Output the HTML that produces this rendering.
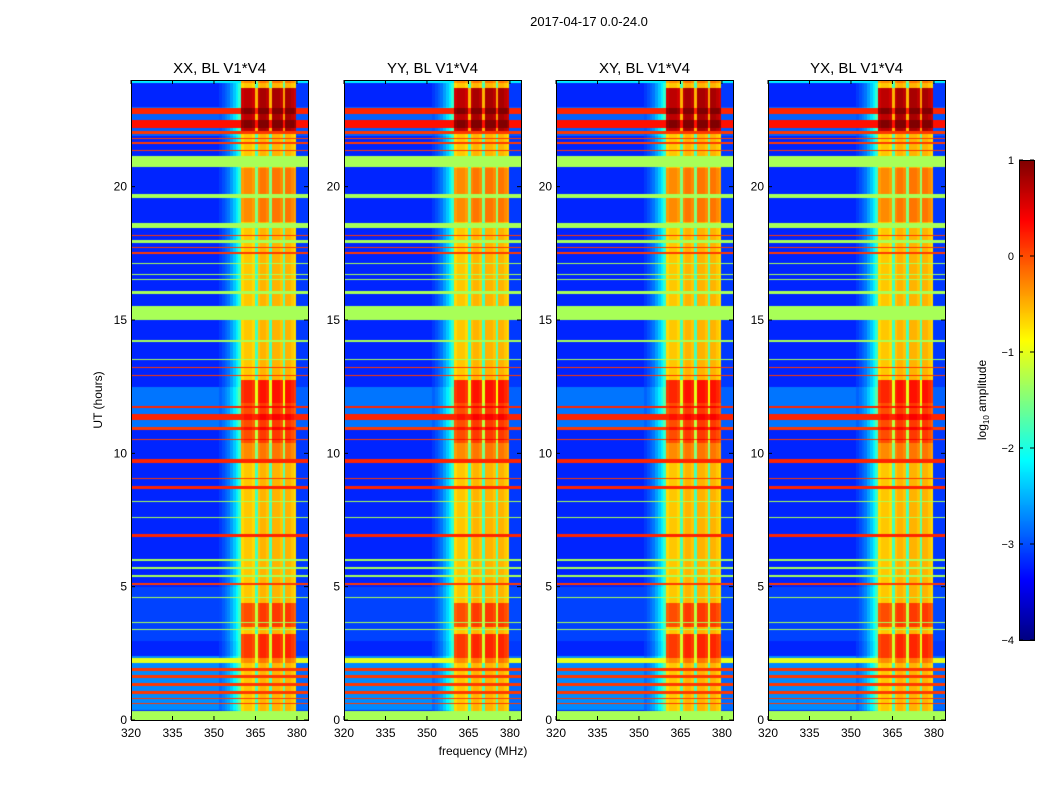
<!DOCTYPE html>
<html><head><meta charset="utf-8"><style>
body{margin:0;background:#fff;width:1050px;height:800px;overflow:hidden;font-family:"Liberation Sans",sans-serif}
#wrap{position:relative;width:1050px;height:800px}
canvas{position:absolute}
svg{position:absolute;left:0;top:0}
</style></head><body>
<div id="wrap">
<canvas id="c0" width="177" height="640" style="left:131px;top:80px"></canvas>
<canvas id="c1" width="177" height="640" style="left:344px;top:80px"></canvas>
<canvas id="c2" width="177" height="640" style="left:556px;top:80px"></canvas>
<canvas id="c3" width="177" height="640" style="left:768px;top:80px"></canvas>
<canvas id="cb" width="15" height="480" style="left:1019px;top:160px"></canvas>
<svg id="ov" width="1050" height="800">
<text x="589" y="26" font-size="13" text-anchor="middle">2017-04-17 0.0-24.0</text>
<text x="483" y="755" font-size="12" text-anchor="middle">frequency (MHz)</text>
<text transform="translate(102,400) rotate(-90)" font-size="12" text-anchor="middle">UT (hours)</text>
<text transform="translate(986,400) rotate(-90)" font-size="12" text-anchor="middle">log<tspan font-size="8" dy="3">10</tspan><tspan dy="-3"> amplitude</tspan></text>
</svg>
</div>
<script>
// ---- data ----
const panelTitles = ["XX, BL V1*V4","YY, BL V1*V4","XY, BL V1*V4","YX, BL V1*V4"];
const freqStart = 320, freqEnd = 384;
const xTicks = [320,335,350,365,380];
const yTicks = [0,5,10,15,20];
const cbTicks = [1,0,-1,-2,-3,-4];
// log10 amplitude per 1-MHz channel, 320..383
const chanLevel = [-3.2,-3.2,-3.2,-3.2,-3.2,-3.2,-3.2,-3.2,-3.2,-3.2,-3.2,-3.2,-3.2,-3.2,-3.2,-3.2,
  -3.2,-3.2,-3.2,-3.2,-3.2,-3.2,-3.2,-3.2,-3.2,-3.2,-3.2,-3.2,-3.2,-3.2,-3.2,-3.2,
  -3.1,-3.0,-2.9,-2.8,-2.6,-2.4,-2.2,-1.9,
  -0.7,-0.6,-0.6,-0.6,-0.7,-1.8,-0.6,-0.5,-0.5,-0.6,-1.8,-0.5,-0.5,-0.5,-0.6,-1.7,
  -0.5,-0.5,-0.6,-0.7,-3.1,-3.1,-3.1,-3.1];
// additive brightening of the signal band [h0,h1,delta]
const signalBoost = [[22.1,23.7,1.3],[18.7,20.7,0.3],[11.9,12.75,0.8],[10.4,11.9,0.6],[9.8,10.4,0.3],[3.5,4.4,0.6],[2.35,3.25,0.7]];
// additive brightening of the off-band background
const bgBoost = [[11.0,12.5,0.4],[0.4,2.4,0.5],[21.9,23.0,0.3],[3.0,5.0,0.15]];
// RFI lines covering all channels [h0,h1,value]
const rfiLines = [[23.9,24,-2.2],[22.75,22.95,0.2],[22.2,22.5,0.3],[22.0,22.08,0.1],[21.8,21.86,0.1],[21.6,21.68,0.1],[21.35,21.42,0.1],
  [18.15,18.22,0.1],[17.68,17.74,0.1],[17.48,17.54,0.1],[13.2,13.27,0.1],[12.9,12.96,0.1],[11.7,11.8,0.2],[11.25,11.5,0.2],[10.9,10.98,0.1],[10.5,10.56,0.1],
  [9.65,9.8,0.2],[9.05,9.12,0.1],[8.7,8.8,0.2],[6.9,7.0,0.2],[5.1,5.16,0.1],[2.15,2.35,-1.0],[1.85,1.95,0.1],[1.6,1.7,0.1],[1.3,1.4,0.1],[1.0,1.1,0.1],[0.8,0.85,0.1],[0.6,0.65,0.1]];
// flagged rows (constant fill) [h0,h1]
const flagRows = [[0,0.37],[15.0,15.56],[16.0,16.1],[17.9,18.0],[18.45,18.65],[19.6,19.76],[20.74,21.15],
  [17.08,17.13],[16.68,16.73],[16.48,16.53],[14.2,14.25],[13.5,13.55],[8.2,8.25],[7.6,7.65],[6.0,6.05],[5.7,5.75],[5.4,5.45],[4.58,4.63],[3.63,3.68],[3.38,3.43]];
const flagValue = -1.3;
const vmin = -4, vmax = 1;
// ---- rendering ----
const PX=[131,344,556,768], PT=80, PW=177, PH=640;
function jet(v){let t=(v-vmin)/(vmax-vmin);t=Math.max(0,Math.min(1,t));
 const c=x=>Math.round(255*Math.max(0,Math.min(1,x)));
 return `rgb(${c(1.5-Math.abs(4*t-3))},${c(1.5-Math.abs(4*t-2))},${c(1.5-Math.abs(4*t-1))})`;}
const xs=f=>(f-freqStart)*PW/(freqEnd-freqStart);
const ys=h=>PH-h*PH/24;
const inB=(h,b)=>h>=b[0]&&h<b[1];
const dh=0.05;
for(let p=0;p<4;p++){
 const ctx=document.getElementById('c'+p).getContext('2d');
 for(let h=0;h<24;h+=dh){
  const hc=h+dh/2;
  for(let k=0;k<chanLevel.length;k++){
   const f=freqStart+k; const sig=f>=360&&f<380;
   let v=chanLevel[k];
   if(sig){signalBoost.forEach(b=>{if(inB(hc,b))v+=b[2];});}
   else{bgBoost.forEach(b=>{if(inB(hc,b))v+=b[2]*(f<352?1:0.5);});}
   rfiLines.forEach(b=>{if(inB(hc,b))v=Math.max(b[2],sig?v+0.3:b[2]);});
   flagRows.forEach(b=>{if(inB(hc,b))v=flagValue;});
   ctx.fillStyle=jet(v);
   const x0=xs(f),x1=xs(f+1),y0=ys(h+dh),y1=ys(h);
   ctx.fillRect(Math.floor(x0),Math.floor(y0),Math.ceil(x1)-Math.floor(x0),Math.ceil(y1)-Math.floor(y0));
  }
 }
}
const cb=document.getElementById('cb').getContext('2d');
for(let i=0;i<480;i++){cb.fillStyle=jet(vmax-(vmax-vmin)*i/480);cb.fillRect(0,i,15,1);}
const NS='http://www.w3.org/2000/svg', ov=document.getElementById('ov');
function mk(tag,a){const e=document.createElementNS(NS,tag);for(const k in a)e.setAttribute(k,a[k]);ov.appendChild(e);return e;}
for(let p=0;p<4;p++){
 const L=PX[p];
 const fr=mk('rect',{x:L+0.5,y:PT+0.5,width:PW,height:PH,fill:'none',stroke:'#000'});
 
 
 const t=mk('text',{x:L+PW/2,y:73,'font-size':15,'text-anchor':'middle'});t.textContent=panelTitles[p];
 
 
 xTicks.forEach(f=>{const x=L+xs(f);
  mk('line',{x1:x,x2:x,y1:PT+PH,y2:PT+PH-4,stroke:'#000'});mk('line',{x1:x,x2:x,y1:PT,y2:PT+4,stroke:'#000'});
  const tl=mk('text',{x:x,y:PT+PH+17,'font-size':12,'text-anchor':'middle'});tl.textContent=f;
  
  });
 yTicks.forEach(h=>{const y=PT+ys(h);
  mk('line',{x1:L,x2:L+4,y1:y,y2:y,stroke:'#000'});mk('line',{x1:L+PW,x2:L+PW-4,y1:y,y2:y,stroke:'#000'});
  const tl=mk('text',{x:L-4,y:y+4,'font-size':12,'text-anchor':'end'});tl.textContent=h;
  
  });
}
mk('rect',{x:1019.5,y:160.5,width:15,height:480,fill:'none',stroke:'#000'});
cbTicks.forEach(v=>{const y=160+(vmax-v)*480/(vmax-vmin);
 mk('line',{x1:1019,x2:1023,y1:y,y2:y,stroke:'#000'});mk('line',{x1:1034,x2:1030,y1:y,y2:y,stroke:'#000'});
 const tl=mk('text',{x:1014,y:y+4,'font-size':11,'text-anchor':'end'});tl.textContent=v<0?'\u2212'+(-v):v;
 
 });
</script>
</body></html>
